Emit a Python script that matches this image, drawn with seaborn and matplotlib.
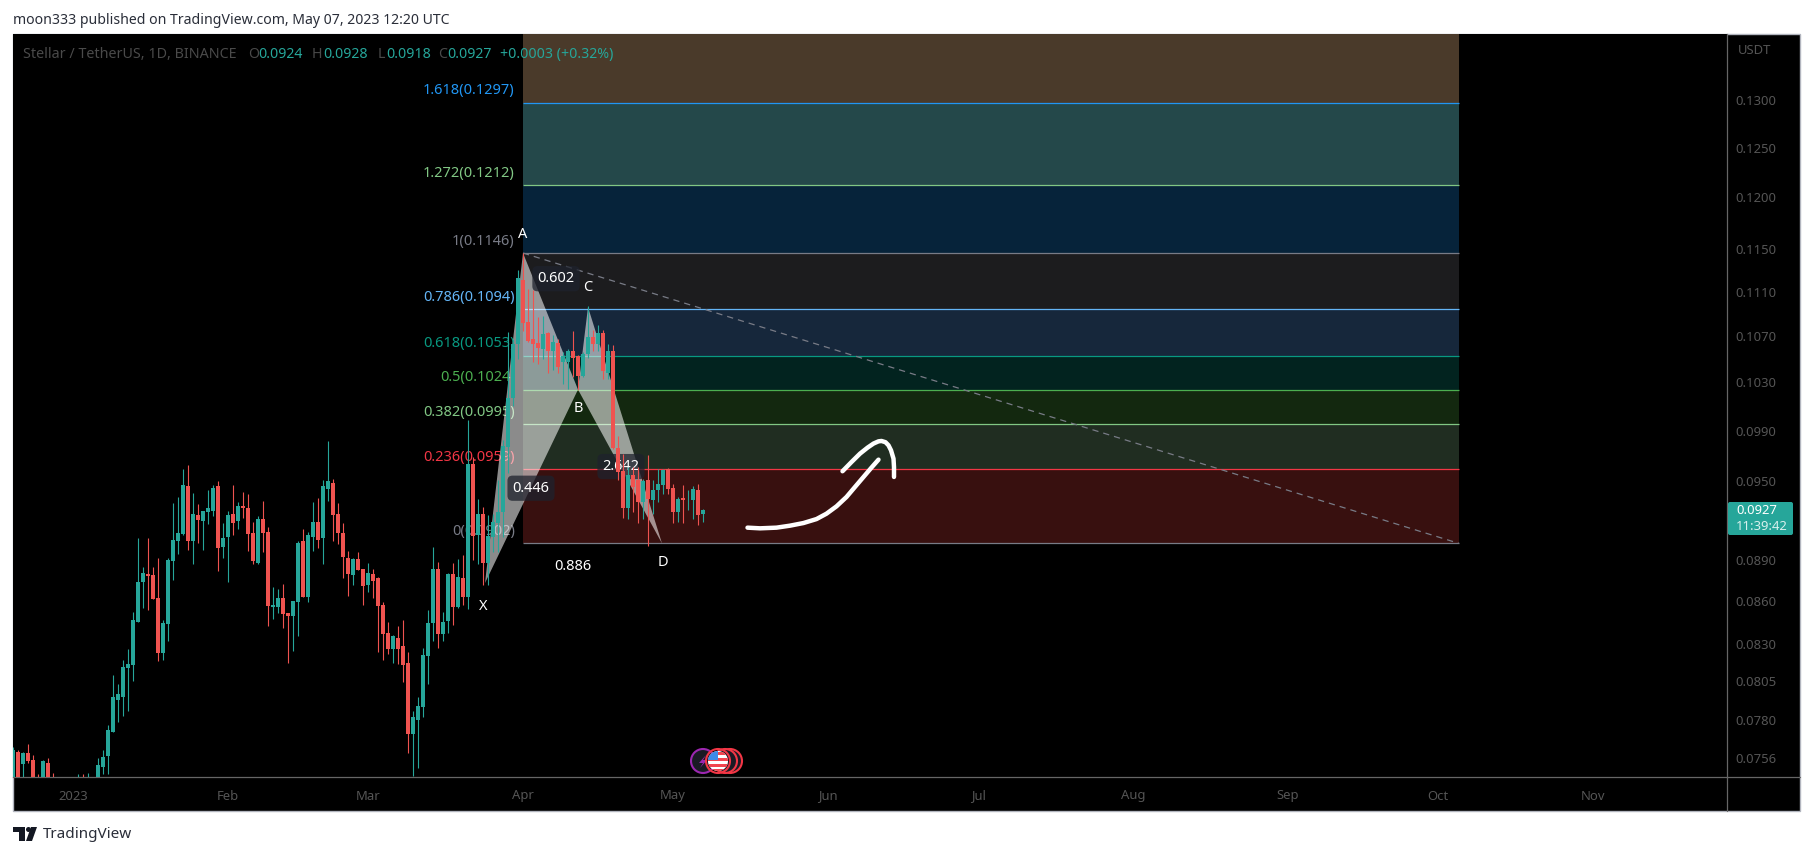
import numpy as np
import pandas as pd
import seaborn as sns
import matplotlib.pyplot as plt
from matplotlib.patches import Circle, FancyBboxPatch, Polygon, Rectangle
from matplotlib.ticker import NullFormatter, NullLocator

# XLM/USDT daily candles, day 0 = 1 Jan 2023
first_day = -12
opens = [.0736, .07593, .0752, .07587, .07545, .0738, .0736, .07526, .0738, .0735, .0732, .0735, .0733,
         .0730, .0736, .0730, .0733, .0736, .07503, .0757, .07724, .07928, .0795, .08142, .0816, .08457,
         .08737, .08796, .08789, .08622, .08241, .0844, .08889, .09037, .09088, .09457, .09037, .09233,
         .09187, .09256, .09264, .09457, .08993, .09065, .09241, .09187, .09302, .09287, .09095, .08876,
         .09203, .09103, .08559, .08559, .08622, .08516, .08495, .08594, .09037, .08629, .09065, .0918,
         .09058, .09433, .09479, .09241, .09095, .08911, .08789, .08904, .08831, .08715, .08796, .08766,
         .08573, .08376, .08268, .08343, .08288, .08174, .07709, .07798, .07882, .0822, .08447, .08831,
         .08369, .08461, .08796, .08561, .0877, .08631, .0963, .09081, .0924, .08877, .0907, .0917,
         .09258, .09769, .10173, .10636, .11207, .10827, .10672, .10643, .10592, .10726, .10571, .10641,
         .10477, .10471, .10568, .10526, .10354, .10543, .10694, .10629, .10726, .10383, .10568, .09762,
         .09576, .09286, .09547, .09502, .09335, .09502, .09346, .09429, .09463, .09589, .09439, .09257,
         .09364, .09354, .09346, .09423, .0924]
highs = [.07629, .07608, .07598, .07646, .07577, .0746, .07545, .07558, .07464, .0740, .0740, .0741, .0739,
         .07458, .07458, .07464, .0740, .07556, .07608, .07766, .08092, .08033, .08194, .08266, .08521, .09063,
         .08847, .09063, .08845, .08911, .08468, .08911, .09322, .09373, .09587, .0962, .09399, .09317,
         .09264, .09425, .09464, .09495, .0917, .09264, .09464, .09333, .09409, .09394, .0918, .09226,
         .09341, .0914, .087, .08686, .08723, .08516, .08601, .09037, .09125, .09103, .09333, .09363,
         .09503, .09814, .09511, .09325, .09172, .08964, .08911, .08956, .08831, .08876, .08831, .08773,
         .08594, .08455, .08363, .08426, .08468, .08248, .07856, .07948, .08275, .08538, .08993, .08882,
         .08523, .08803, .08876, .08904, .08932, .09985, .09688, .09359, .09296, .09232, .0924, .09508,
         .09821, .10739, .1068, .11299, .11456, .11129, .11114, .10871, .10879, .10739, .10709, .10677,
         .10563, .10592, .10747, .10538, .10563, .10967, .10753, .10796, .10753, .10629, .1062, .09852,
         .09714, .09606, .09606, .09606, .09515, .09699, .09502, .09589, .09594, .09602, .09471, .09374,
         .09463, .09423, .09455, .09471, .0928]
lows = [.0732, .0732, .0732, .07524, .0732, .0725, .0732, .0732, .0728, .0728, .0728, .0729, .0727,
        .0725, .0725, .0726, .0728, .0734, .07458, .0746, .07724, .07787, .07824, .07858, .08052, .08457,
        .0855, .08538, .08615, .08187, .08194, .08323, .08752, .08942, .09081, .08971, .08869, .09022,
        .08971, .09165, .09226, .08817, .08911, .08737, .09081, .09125, .0921, .08964, .08869, .08869,
        .08956, .08426, .08475, .08516, .08412, .08174, .08254, .08356, .08629, .08594, .08964, .08985,
        .08869, .09341, .09037, .09014, .08766, .08636, .08715, .08824, .08573, .08665, .08622, .08248,
        .08194, .08234, .08174, .08167, .08046, .07589, .07447, .07497, .07817, .08033, .08323, .08275,
        .08323, .08376, .08433, .0855, .08572, .08548, .08894, .0887, .08718, .08718, .0896, .0896,
        .09069, .0956, .101, .10503, .1075, .10649, .10476, .10462, .10505, .10377, .10406, .10377,
        .10291, .10248, .10348, .10234, .10348, .10514, .10571, .10571, .10333, .10333, .09754, .09507,
        .09211, .09203, .09257, .09173, .09203, .09, .09244, .09335, .09397, .09397, .09173, .09179,
        .09173, .0927, .092, .09155, .0918]
closes = [.07608, .0736, .07587, .07539, .0736, .0730, .07539, .0736, .0735, .0732, .0735, .0733, .0731,
          .0736, .0730, .0735, .0736, .07514, .07562, .07735, .07946, .07967, .08144, .08167, .08468, .08737,
          .08803, .08784, .08615, .08241, .08445, .08896, .09044, .091, .09464, .09037, .09241, .09195,
          .09264, .09287, .09441, .08985, .09063, .09233, .09172, .09302, .09287, .09088, .08889, .09203,
          .09095, .08566, .08573, .08622, .08509, .08495, .08601, .09024, .08629, .09081, .0918, .09044,
          .09457, .09495, .09233, .09095, .08918, .08796, .08904, .08824, .08708, .08803, .08744, .08566,
          .08369, .08268, .08356, .08268, .0816, .07709, .07817, .07889, .08227, .08447, .08831, .08369,
          .08455, .08796, .08559, .08771, .08631, .0963, .09076, .0924, .08872, .09074, .09183, .09255,
          .09773, .10173, .10636, .11223, .10818, .10658, .10628, .10597, .1072, .10571, .1065, .10428,
          .10526, .10568, .10506, .10354, .10543, .10694, .10629, .10726, .104, .10568, .09762, .09569,
          .09286, .09547, .0945, .09335, .09494, .09356, .09429, .09471, .09581, .09431, .09257, .09356,
          .09346, .09359, .09431, .09231, .0927]

# fib retracement
fib_start, fib_end = 90, 277.2
fib_ratios = ["0", "0.236", "0.382", "0.5", "0.618", "0.786", "1", "1.272", "1.618"]
fib_prices = [.0902, .0959, .0995, .1024, .1053, .1094, .1146, .1212, .1297]
fib_top = .14
fib_colors = ["#787b86", "#f23645", "#81c784", "#4caf50", "#089981", "#64b5f6", "#787b86", "#81c784", "#2196f3"]
band_colors = ["#38100f", "#202d21", "#13280f", "#02231f", "#16273b", "#1c1c1e", "#06233a", "#24484a", "#4a3a2a"]

# harmonic pattern corners
pattern_days = [82.4, 90, 101, 103, 117.8]
pattern_prices = [.0873, .1146, .1024, .1096, .0902]
point_names = ["X", "A", "B", "C", "D"]
point_label_days = [82, 90, 101, 103, 118]
point_label_prices = [.0856, .1164, .1008, .1114, .0888]
ratio_names = ["0.602", "0.446", "0.886", "2.642"]
ratio_days = [96.6, 91.6, 100, 109.6]
ratio_prices = [.1122, .0944, .0885, .0961]

trend_days = [90, 277.2]
trend_prices = [.1146, .0902]

# hand drawn arrow
arrow_days_1 = [134.9, 137.4, 140.7, 143.4, 146.1, 148.7, 150.7, 152.7, 154.7, 156.4, 158.1, 159.7, 161.1]
arrow_prices_1 = [.09138, .09133, .09138, .09153, .09173, .09203, .09244, .093, .09372, .0945, .09528, .09602, .09665]
arrow_days_2 = [153.9, 155.7, 157.4, 158.9, 160.1, 161.1, 161.7, 162.5, 163.1, 163.6, 164.1, 164.2, 164.2]
arrow_prices_2 = [.09573, .09646, .09713, .09761, .09794, .09812, .09815, .09805, .0978, .0974, .09673, .09606, .09528]

price_ticks = [.0756, .0780, .0805, .0830, .0860, .0890, .0950, .0990, .1030, .1070, .1110, .1150, .1200, .1250, .1300]
month_days = [0, 31, 59, 90, 120, 151, 181, 212, 243, 273, 304]
month_names = ["2023", "Feb", "Mar", "Apr", "May", "Jun", "Jul", "Aug", "Sep", "Oct", "Nov"]

UP = "#26a69a"
DOWN = "#ef5350"
AXIS_TEXT = "#555555"
W, H = 1814, 856

sns.set_style("dark")
plt.rcParams["font.family"] = ["Noto Sans", "DejaVu Sans"]

candles = pd.DataFrame({"open": opens, "high": highs, "low": lows, "close": closes})
candles["day"] = first_day + candles.index
candles["body"] = (candles["close"] - candles["open"]).abs()
candles["base"] = candles[["open", "close"]].min(axis=1)
candles["rising"] = candles["close"] >= candles["open"]

fig = plt.figure(figsize=(W / 100, H / 100), dpi=100, facecolor="white")

# pixel layer behind the chart, for the black frame
back = fig.add_axes([0, 0, 1, 1], zorder=0)
back.set_xlim(0, W)
back.set_ylim(H, 0)
back.axis("off")
back.add_patch(Rectangle((13, 34), 1787, 777, fc="black", ec="#b2b5be", lw=1))

ax = fig.add_axes([13 / W, 1 - 777 / H, (1726.7 - 13) / W, (777 - 34) / H], facecolor="black", zorder=1)
ax.set_yscale("log")

# fib bands and levels
band_edges = fib_prices + [fib_top]
for i, color in enumerate(band_colors):
    ax.fill_between([fib_start, fib_end], band_edges[i], band_edges[i + 1], color=color, lw=0, zorder=1)
ax.hlines(fib_prices, fib_start, fib_end, colors=fib_colors, lw=0.9, zorder=1.5)
for ratio, price, color in zip(fib_ratios, fib_prices, fib_colors):
    ax.annotate(f"{ratio}({price:.4f})", (fib_start, price), xytext=(-6, 3.2), textcoords="offset points",
                ha="right", va="bottom", color=color, fontsize=10.5, zorder=1.6)

# dashed diagonal of the fib
sns.lineplot(x=trend_days, y=trend_prices, color="#787b86", lw=0.9, ax=ax, zorder=1.7,
             linestyle=(0, (5, 4)), estimator=None)

# XAB and BCD triangles
ax.fill(pattern_days[:3], pattern_prices[:3], color="white", alpha=0.55, lw=0, zorder=2)
ax.fill(pattern_days[2:], pattern_prices[2:], color="white", alpha=0.55, lw=0, zorder=2)

# candles
for rising, color in [(True, UP), (False, DOWN)]:
    part = candles[candles["rising"] == rising]
    ax.vlines(part["day"], part["low"], part["high"], colors=color, lw=0.8, zorder=3)
    sns.barplot(data=part, x="day", y="body", bottom=part["base"].values, native_scale=True, color=color,
                saturation=1, width=0.84, errorbar=None, linewidth=0, ax=ax, zorder=3.1)

# pattern labels
for name, day, price in zip(point_names, point_label_days, point_label_prices):
    ax.text(day, price, name, color="white", ha="center", va="center", fontsize=10.5, zorder=4)
box_style = dict(boxstyle="round,pad=0.35", fc="#1e222d", ec="none", alpha=0.75)
ax.text(ratio_days[0], ratio_prices[0], ratio_names[0], color="white", ha="center", va="center",
        fontsize=10.5, fontweight="bold", zorder=4, bbox=box_style)
ax.text(ratio_days[1], ratio_prices[1], ratio_names[1], color="white", ha="center", va="center",
        fontsize=10.5, fontweight="bold", zorder=4, bbox=box_style)
ax.text(ratio_days[2], ratio_prices[2], ratio_names[2], color="white", ha="center", va="center",
        fontsize=10.5, fontweight="bold", zorder=4)
ax.text(ratio_days[3], ratio_prices[3], ratio_names[3], color="white", ha="center", va="center",
        fontsize=10.5, fontweight="bold", zorder=2.5, bbox=box_style)

# arrow
for xs, ys in [(arrow_days_1, arrow_prices_1), (arrow_days_2, arrow_prices_2)]:
    sns.lineplot(x=xs, y=ys, sort=False, estimator=None, color="white", lw=3.2, solid_capstyle="round",
                 solid_joinstyle="round", ax=ax, zorder=5)

ax.set_xlim(-12, 330.74)
ax.set_ylim(.0744, .13728)
ax.set_xlabel("")
ax.set_ylabel("")
ax.grid(False)
ax.yaxis.tick_right()
ax.set_yticks(price_ticks, [f"{p:.4f}" for p in price_ticks])
ax.yaxis.set_minor_locator(NullLocator())
ax.yaxis.set_minor_formatter(NullFormatter())
ax.set_xticks(month_days, month_names)
ax.tick_params(axis="y", length=0, pad=6, labelsize=9.4, colors=AXIS_TEXT)
ax.tick_params(axis="x", length=0, pad=9, labelsize=9.4, colors=AXIS_TEXT)
for side in ["top", "left"]:
    ax.spines[side].set_visible(False)
for side in ["right", "bottom"]:
    ax.spines[side].set_color("#666666")
    ax.spines[side].set_linewidth(0.9)
    ax.spines[side].set_visible(True)

# pixel layer in front, for the header, price tag, event icons and logo
top = fig.add_axes([0, 0, 1, 1], zorder=2)
top.set_xlim(0, W)
top.set_ylim(H, 0)
top.axis("off")

top.text(13, 20, "moon333 published on TradingView.com, May 07, 2023 12:20 UTC", color="#2a2e39",
         fontsize=10.15, va="center")
top.plot([1726.7, 1800], [777, 777], color="#666666", lw=0.9)
top.plot([1726.7, 1726.7], [777, 811], color="#666666", lw=0.9)

top.text(23, 54, "Stellar / TetherUS, 1D, BINANCE", color="#4a4a4a", fontsize=10.3, va="center")
for x, letter in [(248, "O"), (312, "H"), (378, "L"), (438, "C")]:
    top.text(x, 54, letter, color="#4a4a4a", fontsize=10.2, va="center")
for x, value in [(258, "0.0924"), (323, "0.0928"), (386, "0.0918"), (447, "0.0927"), (500, "+0.0003 (+0.32%)")]:
    top.text(x, 54, value, color=UP, fontsize=10.2, va="center")
top.text(1738, 50, "USDT", color=AXIS_TEXT, fontsize=9.4, va="center")

top.add_patch(FancyBboxPatch((1728, 502), 65, 33, boxstyle="round,pad=0,rounding_size=2", fc=UP, ec="none"))
top.text(1736, 511, "0.0927", color="white", fontsize=9.4, fontweight="bold", va="center")
top.text(1736, 527, "11:39:42", color="#d8f0ed", fontsize=9.4, va="center")

# events
top.add_patch(Circle((703, 761), 12, fc="#1a1a24", ec="#9c27b0", lw=1.5))
top.add_patch(Polygon([(706, 755), (699, 763), (703, 763), (700, 768), (707, 760), (703, 760)], fc="#9c27b0", ec="none"))
for cx in [730, 725]:
    top.add_patch(Circle((cx, 761), 12, fc="#1a1a24", ec="#f23645", lw=1.5))
flag = Circle((718, 761), 10, fc="white", ec="none")
top.add_patch(flag)
for sy, sh in [(752, 3), (758, 3), (764, 3), (769, 3)]:
    stripe = Rectangle((706, sy), 24, sh, fc="#f1454f", ec="none")
    top.add_patch(stripe)
    stripe.set_clip_path(flag)
canton = Rectangle((706, 750), 12, 10, fc="#3d8be8", ec="none")
top.add_patch(canton)
canton.set_clip_path(flag)
top.add_patch(Circle((718, 761), 12, fc="none", ec="#f23645", lw=1.5))

# TradingView logo
top.add_patch(Polygon([(13, 827), (25, 827), (25, 841), (19, 841), (19, 832), (13, 832)], fc="#131722", ec="none"))
top.add_patch(Circle((28.5, 829.5), 2.5, fc="#131722", ec="none"))
top.add_patch(Polygon([(31, 827), (37, 827), (32, 841), (26, 841)], fc="#131722", ec="none"))
top.text(43, 835, "TradingView", color="#2a2e39", fontsize=11, va="center")

fig.savefig("out.png", dpi=100)
